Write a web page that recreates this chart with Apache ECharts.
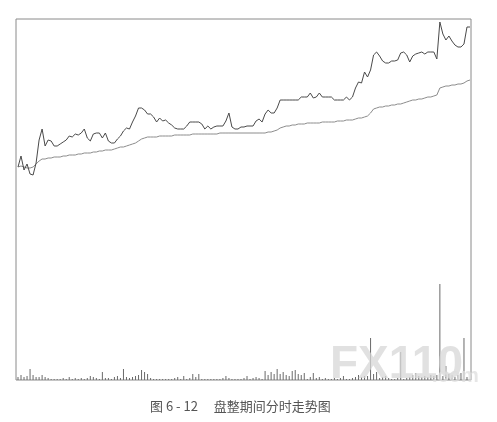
<!DOCTYPE html>
<html>
<head>
<meta charset="utf-8">
<script src="https://cdn.jsdelivr.net/npm/echarts@6/dist/echarts.min.js"></script>
<style>
html,body{margin:0;padding:0;background:#fff;}
#c{width:497px;height:422px;}
</style>
</head>
<body>
<div id="c"></div>
<script>
// 151 sampled minutes across the session (every ~1.6 min)
const minutes = Array.from({length: 151}, (_, i) => String(i));

// price line (yuan)
const price = [
10.12,10.23,10.09,10.15,10.05,10.04,10.16,10.39,10.50,10.33,
10.39,10.38,10.33,10.33,10.35,10.37,10.39,10.43,10.42,10.45,
10.44,10.46,10.50,10.41,10.38,10.45,10.46,10.46,10.41,10.46,
10.38,10.36,10.36,10.40,10.43,10.48,10.51,10.50,10.57,10.63,
10.71,10.71,10.69,10.65,10.65,10.62,10.57,10.61,10.58,10.59,
10.56,10.54,10.51,10.50,10.50,10.50,10.53,10.57,10.57,10.57,
10.57,10.55,10.50,10.53,10.50,10.52,10.53,10.53,10.53,10.58,
10.66,10.52,10.50,10.50,10.52,10.52,10.53,10.53,10.53,10.58,
10.60,10.57,10.65,10.69,10.66,10.66,10.71,10.79,10.79,10.79,
10.79,10.79,10.79,10.79,10.82,10.82,10.82,10.86,10.81,10.82,
10.86,10.82,10.82,10.82,10.82,10.79,10.79,10.79,10.79,10.82,
10.79,10.82,10.91,10.97,10.96,11.07,11.02,11.09,11.24,11.27,
11.23,11.18,11.16,11.16,11.18,11.18,11.19,11.26,11.27,11.24,
11.17,11.23,11.25,11.26,11.27,11.25,11.27,11.27,11.27,11.20,
11.57,11.45,11.39,11.43,11.38,11.34,11.32,11.32,11.35,11.52,
11.52
];

// average price line (yuan)
const avgPrice = [
10.12,10.13,10.12,10.11,10.11,10.12,10.15,10.18,10.20,10.20,
10.21,10.21,10.22,10.22,10.22,10.23,10.23,10.24,10.24,10.24,
10.25,10.25,10.26,10.26,10.26,10.27,10.27,10.28,10.28,10.29,
10.29,10.29,10.30,10.31,10.32,10.32,10.33,10.34,10.35,10.36,
10.38,10.40,10.41,10.42,10.42,10.42,10.42,10.43,10.43,10.43,
10.43,10.43,10.44,10.44,10.44,10.44,10.44,10.44,10.45,10.45,
10.45,10.45,10.45,10.45,10.45,10.45,10.45,10.46,10.46,10.46,
10.46,10.46,10.46,10.46,10.46,10.46,10.46,10.46,10.46,10.46,
10.46,10.46,10.46,10.47,10.47,10.48,10.49,10.51,10.52,10.53,
10.53,10.54,10.54,10.55,10.55,10.55,10.56,10.56,10.56,10.56,
10.56,10.57,10.57,10.57,10.57,10.57,10.58,10.58,10.58,10.59,
10.59,10.59,10.60,10.61,10.61,10.62,10.63,10.66,10.70,10.71,
10.72,10.72,10.73,10.73,10.74,10.74,10.75,10.75,10.76,10.77,
10.78,10.79,10.79,10.80,10.80,10.81,10.82,10.82,10.83,10.84,
10.91,10.92,10.93,10.93,10.94,10.94,10.95,10.95,10.96,10.98,
10.99
];

// volume (lots)
const volume = [
300,500,300,400,1100,500,300,300,500,300,
200,100,100,100,100,200,100,300,100,200,
100,200,100,200,400,300,200,100,800,200,
200,100,300,400,200,1100,300,200,300,400,
500,1000,800,600,200,100,100,100,100,100,
100,100,200,300,100,400,100,200,600,300,
600,100,100,100,100,100,100,100,200,400,
200,100,100,100,100,200,400,100,200,300,
200,100,900,500,800,600,1100,600,800,500,
400,900,1000,600,500,700,100,300,700,200,
300,100,200,100,100,200,100,200,400,100,
100,200,300,500,300,400,400,4200,600,800,
200,300,400,200,100,100,200,2800,100,200,
300,500,700,400,300,400,300,500,400,500,
9600,400,1400,600,500,300,500,700,4200,300,
100
];

const captionText = '图 6 - 12　 盘整期间分时走势图';
const watermarkMain = 'FX110';
const watermarkSub = '.com';

const chart = echarts.init(document.getElementById('c'), null, {renderer: 'canvas'});
const frameColor = '#8a8a8a';

chart.setOption({
  animation: false,
  backgroundColor: '#ffffff',
  grid: [
    {left: 18, right: 27, top: 19, bottom: 222},
    {left: 18, right: 27, top: 280, bottom: 42},
    {left: 16, right: 26, top: 19, bottom: 42, show: true, borderColor: frameColor, borderWidth: 1, backgroundColor: 'transparent'}
  ],
  xAxis: [
    {type: 'category', gridIndex: 0, data: minutes, boundaryGap: false, show: false},
    {type: 'category', gridIndex: 1, data: minutes, boundaryGap: false, show: false},
    {type: 'value', gridIndex: 2, show: false}
  ],
  yAxis: [
    {type: 'value', gridIndex: 0, min: 9.79, max: 11.60, show: false},
    {type: 'value', gridIndex: 1, min: 0, max: 10000, show: false},
    {type: 'value', gridIndex: 2, show: false}
  ],
  series: [
    {
      type: 'line', xAxisIndex: 0, yAxisIndex: 0, data: avgPrice,
      symbol: 'none', lineStyle: {color: '#8c8c8c', width: 1}, z: 2
    },
    {
      type: 'line', xAxisIndex: 0, yAxisIndex: 0, data: price,
      symbol: 'none', lineStyle: {color: '#4a4a4a', width: 1}, z: 3
    },
    {
      type: 'bar', xAxisIndex: 1, yAxisIndex: 1, data: volume,
      barWidth: 1, itemStyle: {color: '#6a6a6a'}, z: 2
    }
  ],
  graphic: [
    {
      type: 'text', left: 150, top: 400,
      style: {text: captionText, font: '13px "Noto Sans CJK SC", serif', fill: '#555'}
    },
    {
      type: 'text', left: 330, top: 342, z: 10,
      style: {text: watermarkMain, font: 'bold 46px "Liberation Sans", Arial, sans-serif', fill: 'rgba(215,215,215,0.75)'}
    },
    {
      type: 'text', left: 432, top: 366, z: 10,
      style: {text: watermarkSub, font: 'bold 20px "Liberation Sans", Arial, sans-serif', fill: 'rgba(222,222,222,0.75)'}
    }
  ]
});
</script>
</body>
</html>
